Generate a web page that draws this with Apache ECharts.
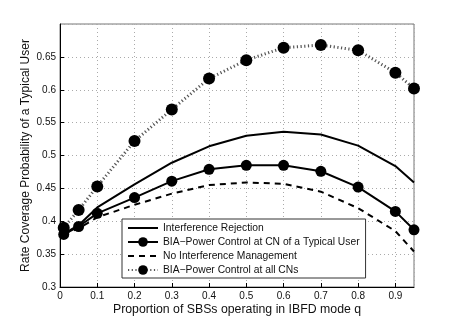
<!DOCTYPE html>
<html>
<head>
<meta charset="utf-8">
<script src="https://cdn.jsdelivr.net/npm/echarts@6/dist/echarts.min.js"></script>
<style>
  html, body { margin: 0; padding: 0; background: #fff; }
</style>
</head>
<body>
<div id="chart" style="width: 457px; height: 323px;"></div>
<script>
var qValues = [0.01, 0.05, 0.1, 0.2, 0.3, 0.4, 0.5, 0.6, 0.7, 0.8, 0.9, 0.95];
var rejection = [0.381, 0.394, 0.421, 0.456, 0.489, 0.514, 0.530, 0.536, 0.532, 0.515, 0.484, 0.459];
var biaTypical = [0.380, 0.392, 0.412, 0.436, 0.461, 0.479, 0.485, 0.485, 0.476, 0.452, 0.415, 0.387];
var noManagement = [0.380, 0.389, 0.406, 0.425, 0.442, 0.455, 0.459, 0.457, 0.445, 0.420, 0.385, 0.354];
var biaAll = [0.390, 0.417, 0.453, 0.522, 0.570, 0.617, 0.645, 0.664, 0.668, 0.660, 0.626, 0.602];
var seriesNames = [
  'Interference Rejection',
  'BIA\u2212Power Control at CN of a Typical User',
  'No Interference Management',
  'BIA\u2212Power Control at all CNs'
];

function pairs(ys) {
  return qValues.map(function (q, i) { return [q, ys[i]]; });
}

var font = 'Liberation Sans, Arial, sans-serif';
var chart = echarts.init(document.getElementById('chart'));

var option = {
  animation: false,
  backgroundColor: '#fff',
  textStyle: { fontFamily: font },
  grid: {
    left: 60, right: 43, top: 24, bottom: 36,
    show: true, borderColor: '#777', borderWidth: 1
  },
  legend: {
    orient: 'vertical',
    left: 122, top: 219,
    padding: [4, 6, 3, 5],
    itemGap: 4,
    itemWidth: 30, itemHeight: 12,
    backgroundColor: '#fff',
    borderColor: '#333', borderWidth: 1,
    textStyle: { fontFamily: font, fontSize: 10.3, color: '#111' },
    data: [
      { name: seriesNames[0], itemStyle: { opacity: 0 } },
      { name: seriesNames[1] },
      { name: seriesNames[2], itemStyle: { opacity: 0 } },
      { name: seriesNames[3] }
    ]
  },
  xAxis: {
    type: 'value',
    min: 0, max: 0.95, interval: 0.1,
    name: 'Proportion of SBSs operating in IBFD mode q',
    nameLocation: 'middle', nameGap: 17, nameMoveOverlap: false,
    nameTextStyle: { fontSize: 12.3, color: '#111', fontFamily: font },
    axisLine: { lineStyle: { color: '#000', width: 1 } },
    axisTick: { inside: true, length: 4, lineStyle: { color: '#000' } },
    axisLabel: { color: '#111', fontSize: 10, margin: 4, showMaxLabel: false },
    splitLine: { show: true, lineStyle: { color: '#aaa', type: [1, 3] } }
  },
  yAxis: {
    type: 'value',
    min: 0.3, max: 0.7, interval: 0.05,
    name: 'Rate Coverage Probability of a Typical User',
    nameLocation: 'middle', nameGap: 28, nameMoveOverlap: false,
    nameTextStyle: { fontSize: 12, color: '#111', fontFamily: font },
    axisLine: { show: true, lineStyle: { color: '#000', width: 1 } },
    axisTick: { show: true, inside: true, length: 4, lineStyle: { color: '#000' } },
    axisLabel: { color: '#111', fontSize: 10, margin: 4, showMaxLabel: false },
    splitLine: { show: true, lineStyle: { color: '#aaa', type: [1, 3] } }
  },
  series: [
    {
      name: seriesNames[0], type: 'line', data: pairs(rejection),
      showSymbol: false, symbol: 'none',
      lineStyle: { color: '#000', width: 2 }, itemStyle: { color: '#000' }
    },
    {
      name: seriesNames[1], type: 'line', data: pairs(biaTypical),
      symbol: 'circle', symbolSize: 11,
      lineStyle: { color: '#000', width: 2 }, itemStyle: { color: '#000' }
    },
    {
      name: seriesNames[2], type: 'line', data: pairs(noManagement),
      showSymbol: false, symbol: 'none',
      lineStyle: { color: '#000', width: 2, type: [6, 5] }, itemStyle: { color: '#000' }
    },
    {
      name: seriesNames[3], type: 'line', data: pairs(biaAll),
      symbol: 'circle', symbolSize: 12,
      lineStyle: { color: '#555', width: 3, type: [1.2, 2.5] }, itemStyle: { color: '#000' }
    }
  ]
};

chart.setOption(option);
</script>
</body>
</html>
